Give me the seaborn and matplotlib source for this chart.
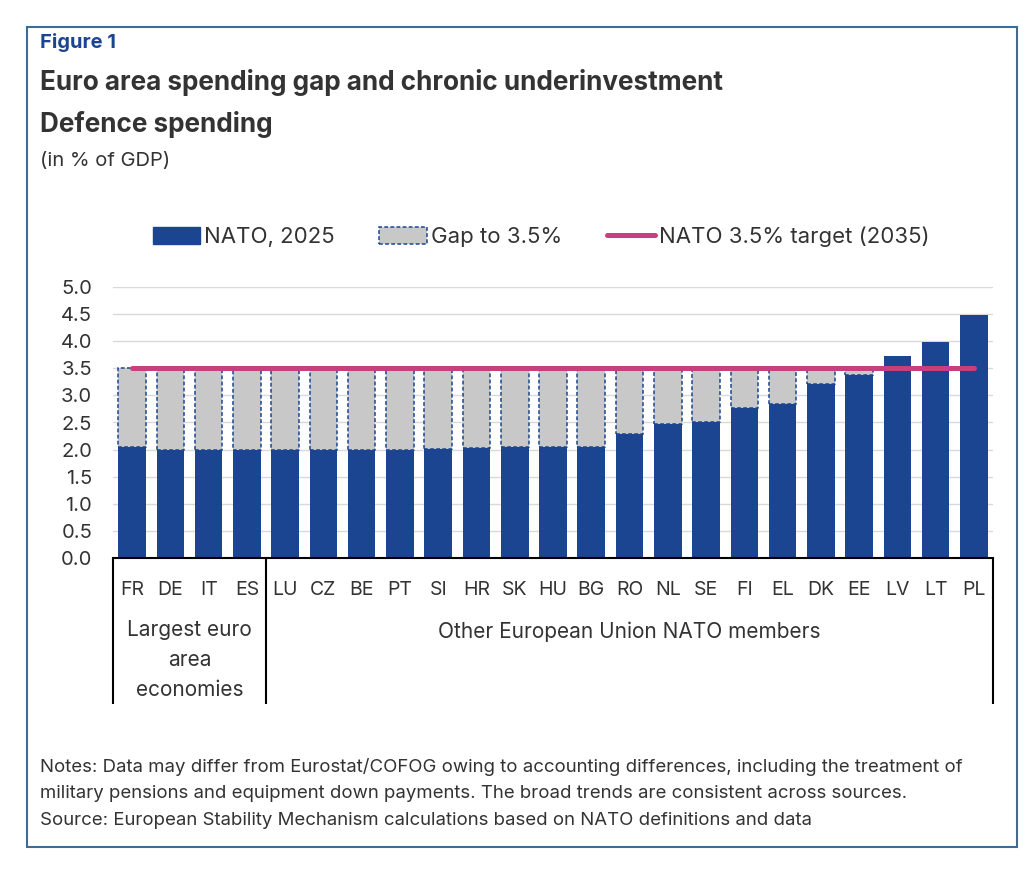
import matplotlib
matplotlib.use("Agg")
import matplotlib.pyplot as plt
import seaborn as sns
import pandas as pd
from matplotlib.patches import Rectangle, Patch
from matplotlib.lines import Line2D

# ---------------- data ----------------
countries = ["FR", "DE", "IT", "ES", "LU", "CZ", "BE", "PT", "SI", "HR", "SK", "HU",
             "BG", "RO", "NL", "SE", "FI", "EL", "DK", "EE", "LV", "LT", "PL"]
nato_2025 = [2.04, 2.00, 2.00, 2.00, 2.00, 2.00, 2.00, 2.00, 2.02, 2.03, 2.04, 2.05,
             2.05, 2.28, 2.48, 2.50, 2.76, 2.84, 3.21, 3.37, 3.72, 3.98, 4.47]
target = 3.5
group_labels = ["Largest euro\narea\neconomies", "Other European Union NATO members"]
group_sizes = [4, 19]
yticks = [0.0, 0.5, 1.0, 1.5, 2.0, 2.5, 3.0, 3.5, 4.0, 4.5, 5.0]
legend_labels = ["NATO, 2025", "Gap to 3.5%", "NATO 3.5% target (2035)"]
notes = ["Notes: Data may differ from Eurostat/COFOG owing to accounting differences, including the treatment of",
         "military pensions and equipment down payments. The broad trends are consistent across sources.",
         "Source: European Stability Mechanism calculations based on NATO definitions and data"]

# ---------------- style ----------------
NAVY = "#1b4590"
GRAY = "#c8c8c8"
PINK = "#c93f7d"
TEXT = "#333333"
BORDER = "#3f6c94"
GRID = "#d9d9d9"

sns.set_theme(style="white")
plt.rcParams["font.family"] = ["Inter", "DejaVu Sans"]

W, H = 1034, 872
fig = plt.figure(figsize=(W / 100, H / 100), dpi=100)
fig.patch.set_facecolor("white")

def fx(px):
    return px / W

def fy(py):
    return 1 - py / H

ax_left, ax_right, ax_top, ax_bottom = 113, 993, 286.7, 558.3
ax = fig.add_axes([fx(ax_left), fy(ax_bottom), fx(ax_right - ax_left), (ax_bottom - ax_top) / H])

df = pd.DataFrame({"country": countries, "value": nato_2025})
df["gap"] = [max(target - v, 0.0) for v in nato_2025]

sns.barplot(data=df, x="country", y="value", color=NAVY, saturation=1, width=0.72,
            linewidth=0, ax=ax, zorder=2)

dash = (0, (2.5, 1.5))
pos = [i for i, g in enumerate(df["gap"]) if g > 0]
ax.bar(pos, [df["gap"][i] for i in pos], bottom=[nato_2025[i] for i in pos], width=0.72,
       color=GRAY, edgecolor=NAVY, linewidth=1.1, linestyle=dash, zorder=2)

ax.plot([0, len(countries) - 1], [target, target], color=PINK, lw=3.6,
        solid_capstyle="round", zorder=4)

ax.set_xlim(-0.5, len(countries) - 0.5)
ax.set_ylim(0, 5)
ax.set_yticks(yticks)
ax.set_yticklabels([f"{t:.1f}" for t in yticks])
ax.yaxis.grid(True, color=GRID, lw=1.0)
ax.set_axisbelow(True)
for s in ["left", "top", "right"]:
    ax.spines[s].set_visible(False)
ax.spines["bottom"].set_color("black")
ax.spines["bottom"].set_linewidth(1.5)
ax.set_xlabel("")
ax.set_ylabel("")
ax.tick_params(axis="x", length=0, pad=16, labelsize=14, labelcolor=TEXT)
ax.tick_params(axis="y", length=0, pad=15, labelsize=14.5, labelcolor=TEXT)

# group brackets
trans = ax.get_xaxis_transform()
ax_h = ax_bottom - ax_top
bracket_bottom = -(704 - ax_bottom) / ax_h
edges = [-0.5]
for n in group_sizes:
    edges.append(edges[-1] + n)
for xb in edges:
    ax.plot([xb, xb], [0, bracket_bottom], transform=trans, color="black", lw=1.5,
            clip_on=False, solid_capstyle="butt")
ax.text((edges[0] + edges[1]) / 2, -(660 - ax_bottom) / ax_h, group_labels[0], transform=trans,
        ha="center", va="center", fontsize=15, color=TEXT, linespacing=1.62)
ax.text((edges[1] + edges[2]) / 2, -(632 - ax_bottom) / ax_h, group_labels[1], transform=trans,
        ha="center", va="center", fontsize=15, color=TEXT)

# legend
handles = [Patch(facecolor=NAVY, edgecolor=NAVY),
           Patch(facecolor=GRAY, edgecolor=NAVY, linestyle=dash, linewidth=1.1),
           Line2D([], [], color=PINK, lw=3.6, solid_capstyle="round")]
fig.legend(handles, legend_labels, loc="center", bbox_to_anchor=(fx(541), fy(237)), ncol=3,
           frameon=False, fontsize=16, handlelength=2.15, handleheight=0.75,
           handletextpad=0.18, columnspacing=2.0, labelcolor=TEXT)

# headers
fig.text(fx(40), fy(42), "Figure 1", ha="left", va="center", fontsize=14.5, fontweight="bold", color=NAVY)
fig.text(fx(40), fy(82), "Euro area spending gap and chronic underinvestment", ha="left", va="center",
         fontsize=18.8, fontweight="bold", color=TEXT)
fig.text(fx(40), fy(125), "Defence spending", ha="left", va="center", fontsize=18.8,
         fontweight="bold", color=TEXT)
fig.text(fx(40), fy(161), "(in % of GDP)", ha="left", va="center", fontsize=14.5, color=TEXT)

for i, line in enumerate(notes):
    fig.text(fx(40), fy(767 + 26.5 * i), line, ha="left", va="center", fontsize=13.4, color=TEXT)

fig.patches.append(Rectangle((fx(27), fy(847)), fx(1017 - 27), (847 - 27) / H,
                             transform=fig.transFigure, fill=False, edgecolor=BORDER, lw=1.5))

fig.savefig("out.png", dpi=100)
